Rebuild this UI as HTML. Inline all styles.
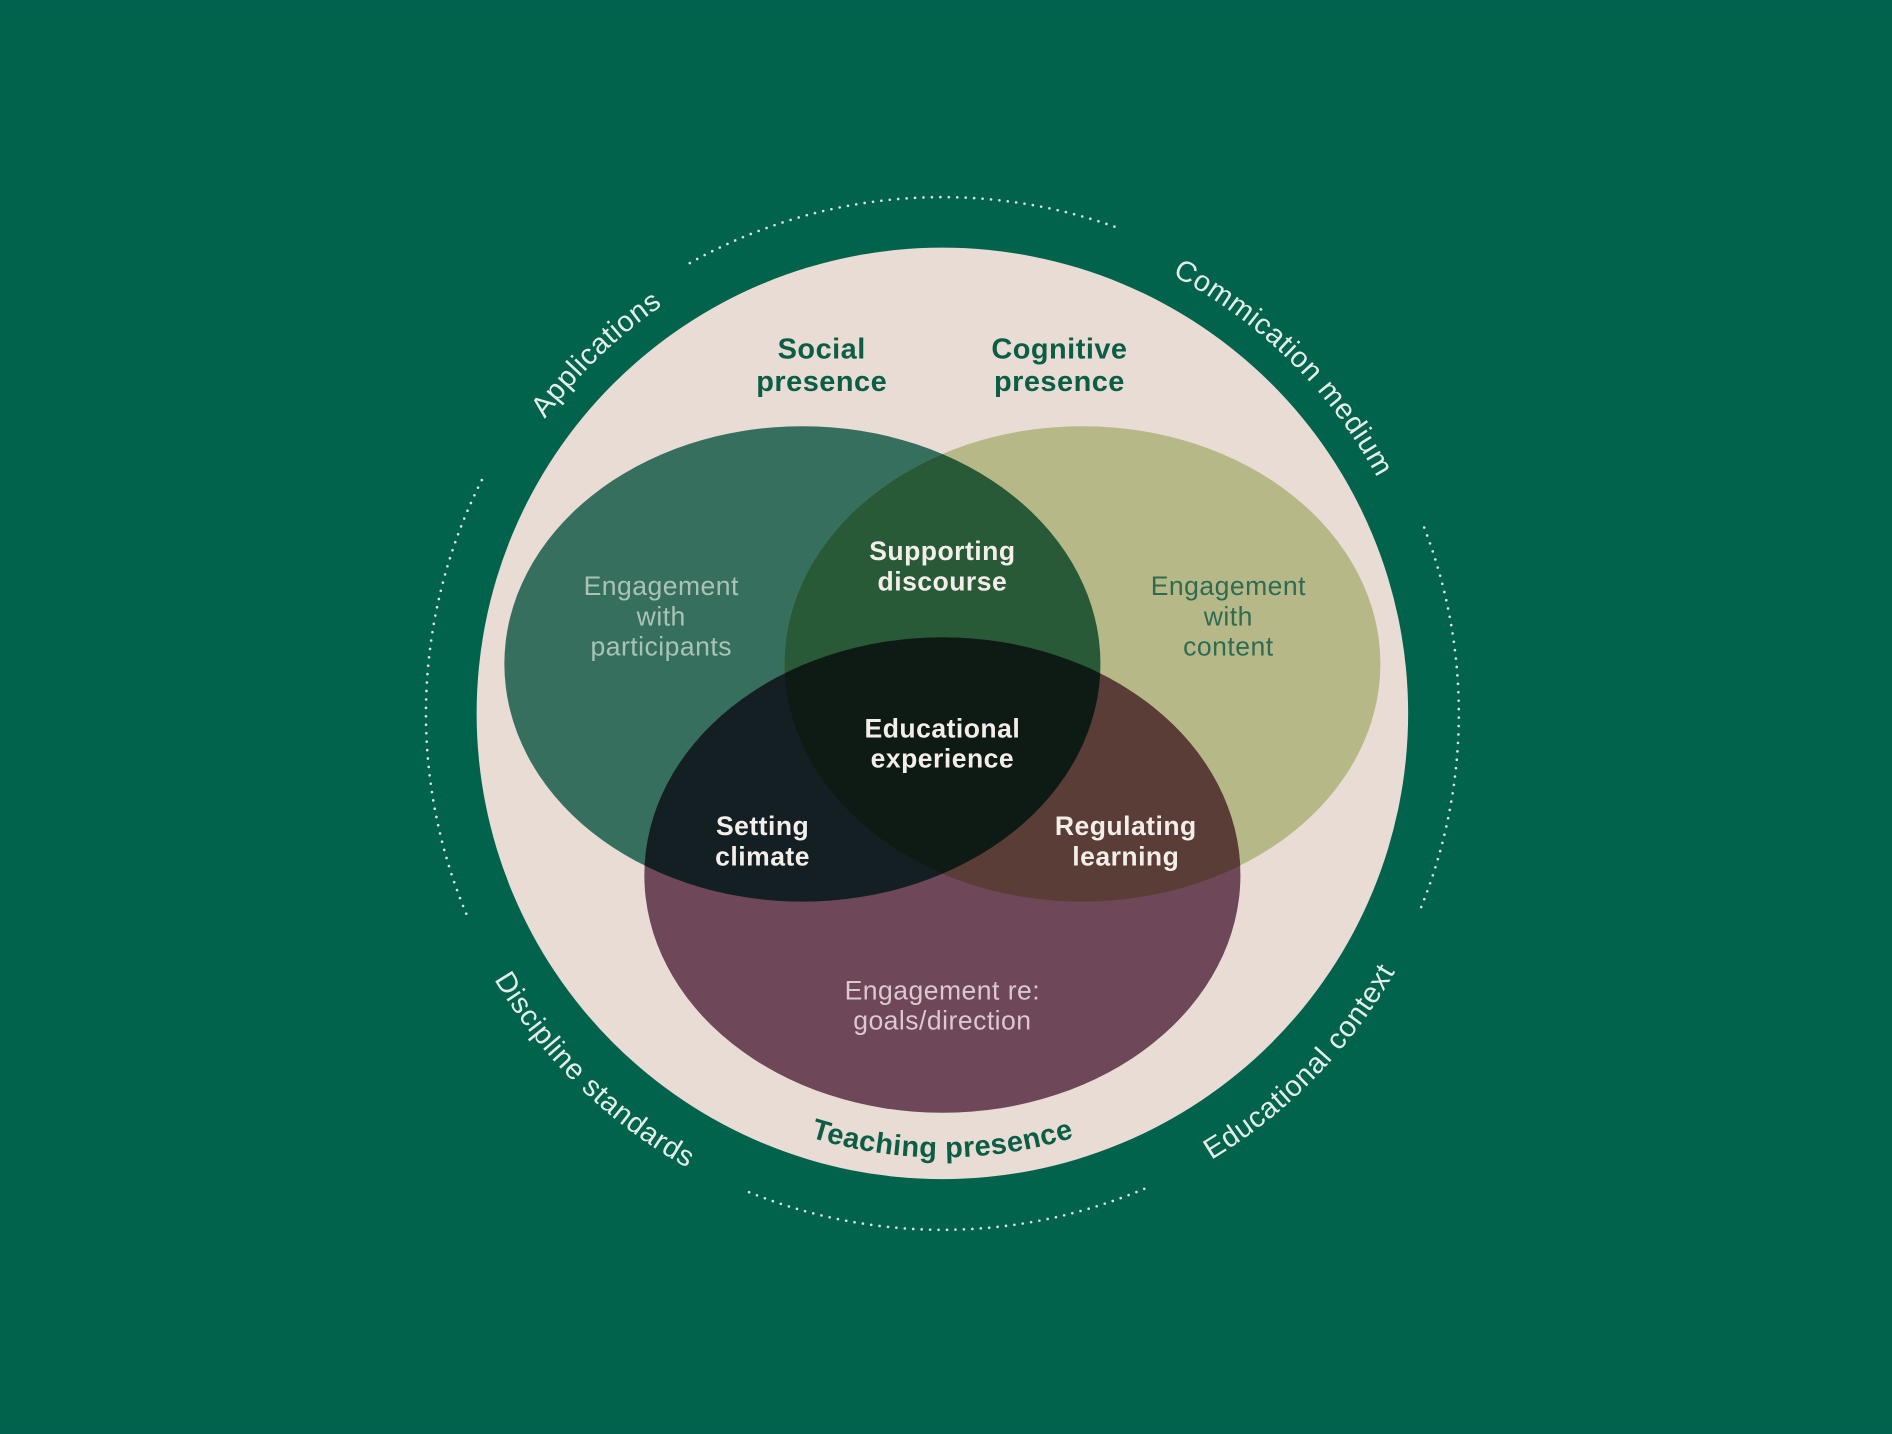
<!DOCTYPE html>
<html><head><meta charset="utf-8"><style>
html,body{margin:0;padding:0;background:#02634D;}
svg{display:block;}
text{font-family:"Liberation Sans",sans-serif;}
</style></head><body>
<svg width="1892" height="1434" viewBox="0 0 1568 1188" xmlns="http://www.w3.org/2000/svg">
<defs>
<clipPath id="cL"><ellipse cx="665" cy="550" rx="247" ry="197"/></clipPath>
<clipPath id="cR"><ellipse cx="897" cy="550" rx="247" ry="197"/></clipPath>
<clipPath id="cB"><ellipse cx="781" cy="725" rx="247" ry="197"/></clipPath>
<path id="topR" d="M371,591 A410,410 0 0 1 1191,591 A410,410 0 0 1 371,591"/>
<path id="botR" d="M349,591 A432,432 0 0 0 1213,591 A432,432 0 0 0 349,591"/>
<path id="teach" d="M413,591 A368,368 0 0 0 1149,591 A368,368 0 0 0 413,591"/>
</defs>
<rect width="1568" height="1188" fill="#02634D"/>
<g fill="none" stroke="#d6e6de" stroke-width="2.2" stroke-linecap="round" stroke-dasharray="0 7">
<path d="M571.7,217.8 A428,428 0 0 1 925.3,188.2"/>
<path d="M386.4,757 A428,428 0 0 1 401.8,392.8"/>
<path d="M1180.3,437 A428,428 0 0 1 1177.3,752.8"/>
<path d="M948.3,985 A428,428 0 0 1 614.5,985.2"/>
</g>
<circle cx="781" cy="591" r="386" fill="#E8DCD4"/>
<ellipse cx="665" cy="550" rx="247" ry="197" fill="#376F5E"/>
<ellipse cx="897" cy="550" rx="247" ry="197" fill="#B6B987"/>
<ellipse cx="781" cy="725" rx="247" ry="197" fill="#6E4758"/>
<g clip-path="url(#cL)"><ellipse cx="897" cy="550" rx="247" ry="197" fill="#285A38"/><ellipse cx="781" cy="725" rx="247" ry="197" fill="#131F22"/></g>
<g clip-path="url(#cR)"><ellipse cx="781" cy="725" rx="247" ry="197" fill="#5A3D36"/></g>
<g clip-path="url(#cL)"><g clip-path="url(#cR)"><ellipse cx="781" cy="725" rx="247" ry="197" fill="#0E1A14"/></g></g>

<g font-size="24" font-weight="bold" fill="#0B5E45" text-anchor="middle" letter-spacing="0.4">
<text x="681" y="297">Social</text><text x="681" y="324">presence</text>
<text x="878" y="297">Cognitive</text><text x="878" y="324">presence</text>
</g>
<g font-size="22" text-anchor="middle" letter-spacing="0.4">
<g fill="#A9C4B7"><text x="548" y="493">Engagement</text><text x="548" y="518">with</text><text x="548" y="543">participants</text></g>
<g fill="#2E6B52"><text x="1018" y="493">Engagement</text><text x="1018" y="518">with</text><text x="1018" y="543">content</text></g>
<g fill="#DCC8CF"><text x="781" y="828">Engagement re:</text><text x="781" y="853">goals/direction</text></g>
<g font-weight="bold" fill="#F4EEEA">
<text x="781" y="464">Supporting</text><text x="781" y="489">discourse</text>
<text x="781" y="611">Educational</text><text x="781" y="636">experience</text>
<text x="632" y="692">Setting</text><text x="632" y="717">climate</text>
<text x="933" y="692">Regulating</text><text x="933" y="717">learning</text>
</g>
</g>
<text font-size="24" font-weight="bold" fill="#0B5E45" text-anchor="middle" letter-spacing="0.4"><textPath href="#teach" startOffset="25%">Teaching presence</textPath></text>
<g font-size="24" fill="#E4EEE9" text-anchor="middle" letter-spacing="0.6">
<text><textPath href="#topR" startOffset="12.8%">Applications</textPath></text>
<text><textPath href="#topR" startOffset="37.4%">Commication medium</textPath></text>
<text><textPath href="#botR" startOffset="12.7%">Discipline standards</textPath></text>
<text><textPath href="#botR" startOffset="37.7%">Educational context</textPath></text>
</g>
</svg>
</body></html>
